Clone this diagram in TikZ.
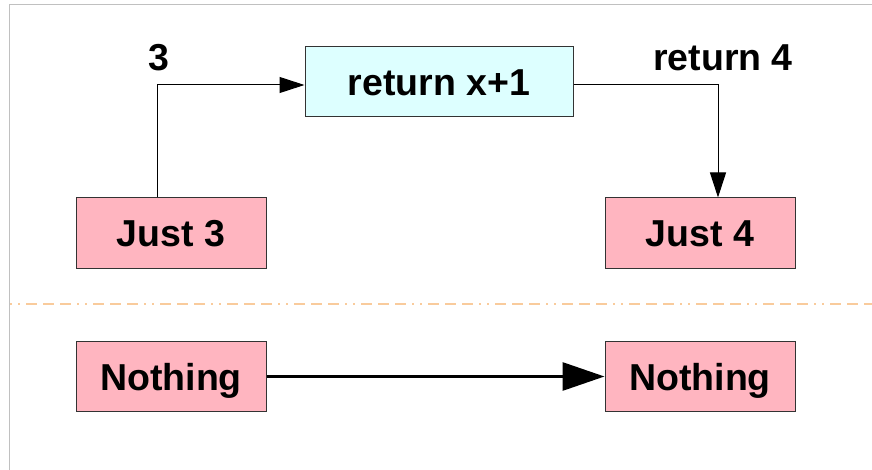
\documentclass[tikz,border=0pt]{standalone}
\usepackage{fontspec}
\setmainfont{Liberation Sans}
\usetikzlibrary{arrows.meta}

\definecolor{justpink}{HTML}{FFB5C0}
\definecolor{funccyan}{HTML}{DDFFFF}
\definecolor{sepbeige}{HTML}{F9CB9C}
\definecolor{framegray}{HTML}{C0C0C0}

\tikzstyle{pix}=[x=1pt,y=-1pt]
\tikzstyle{bigtext}=[font=\fontsize{37.5}{44}\selectfont\bfseries]
\tikzstyle{maybebox}=[bigtext, draw=black!80, line width=1pt, fill=justpink,
  minimum width=190pt, minimum height=70pt, inner sep=0pt,
  text height=27pt, text depth=0pt]
\tikzstyle{funcbox}=[maybebox, fill=funccyan, minimum width=268pt]
\tikzstyle{thinarrow}=[line width=1pt, -{Triangle[length=25pt,width=16pt]}]
\tikzstyle{thickarrow}=[line width=3pt, -{Triangle[length=42pt,width=28pt]}]

\begin{document}
\begin{tikzpicture}[style=pix]
\useasboundingbox (0,0) rectangle (872,470);
% frame
\draw[framegray, line width=1pt] (9,470) -- (9,5) -- (872,5);

% top half: Just
\node[funcbox] (ret) at (439,82) {return x+1};
\node[maybebox] (just3) at (171,233) {Just 3};
\node[maybebox] (just4) at (700,233) {Just 4};
\node[bigtext] (val) at (159,58) {3};
\node[bigtext] (res) at (723,58) {return 4};

\draw[thinarrow] ([xshift=-14pt]just3.north) |- ([yshift=-3pt]ret.west);
\draw[thinarrow] ([yshift=-3pt]ret.east) -| ([xshift=18pt]just4.north);

% separator
\draw[sepbeige, line width=2pt,
  dash pattern=on 2pt off 6pt on 2pt off 6pt on 11pt off 6pt on 11pt off 6pt on 11pt off 6pt]
  (10,304) -- (872,304);

% bottom half: Nothing
\node[maybebox] (none1) at (171,376.5) {Nothing};
\node[maybebox] (none2) at (700,376.5) {Nothing};
\draw[thickarrow] (none1) -- (none2);
\end{tikzpicture}
\end{document}
